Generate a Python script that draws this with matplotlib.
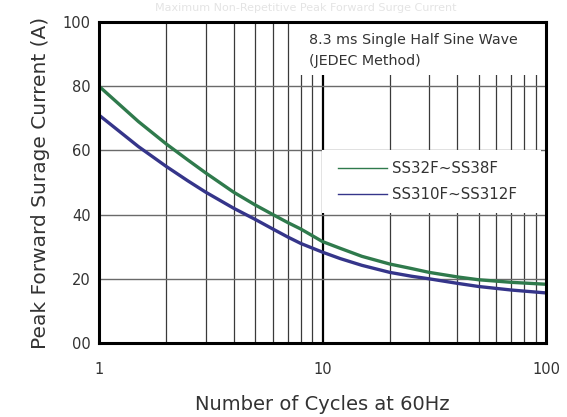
import numpy as np
import matplotlib
matplotlib.use("Agg")
import matplotlib.pyplot as plt
from matplotlib.patches import Rectangle

plt.rcParams['font.family'] = ['DejaVu Sans']

# values
cycles = [1, 1.5, 2, 2.5, 3, 4, 5, 6, 7, 8, 10, 12, 15, 20, 25, 30, 40, 50, 70, 100]
ss32f = [80, 69.0, 62, 57, 53, 47, 43, 40, 37.5, 35.5, 31.6, 29.5, 27, 24.6,
         23.2, 22, 20.6, 19.7, 18.9, 18.3]
ss310f = [71, 61.2, 55, 50.5, 47, 42, 38.5, 35.5, 33, 31, 28.3, 26.3, 24.2, 22,
          20.8, 20, 18.6, 17.6, 16.5, 15.6]

yticks = [0, 20, 40, 60, 80, 100]
ytick_labels = ["00", "20", "40", "60", "80", "100"]
xticks = [1, 10, 100]
xtick_labels = ["1", "10", "100"]

fig = plt.figure(figsize=(5.67, 4.17), dpi=100)
ax = fig.add_axes([99 / 567, 74 / 417, 447 / 567, 321 / 417])

ax.set_xscale("log")
ax.set_xlim(1, 100)
ax.set_ylim(0, 100)

# grid: thin dark verticals at every log step, thicker one at 10, grey horizontals
minor = [m * d for d in (1, 10) for m in range(2, 10)]
for v in minor:
    ax.axvline(v, color="#3a3a3a", lw=0.9, zorder=1)
ax.axvline(10, color="black", lw=1.6, zorder=1)
for h in (20, 40, 60, 80):
    ax.axhline(h, color="#6a6a6a", lw=1.0, zorder=1)

# white areas behind the note and legend
ax.add_patch(Rectangle((0.434, 0.835), 0.566, 0.165, transform=ax.transAxes,
                       facecolor="white", edgecolor="none", zorder=2))
ax.add_patch(Rectangle((0.499, 0.405), 0.49, 0.196, transform=ax.transAxes,
                       facecolor="white", edgecolor="none", zorder=2))

ax.plot(cycles, ss32f, color="#2f7a4c", lw=2.4, zorder=3)
ax.plot(cycles, ss310f, color="#35358a", lw=2.4, zorder=3)

txt = "#333333"
ax.text(0.47, 0.943, "8.3 ms Single Half Sine Wave", transform=ax.transAxes,
        fontsize=10.3, va="center", ha="left", zorder=4, color=txt)
ax.text(0.47, 0.877, "(JEDEC Method)", transform=ax.transAxes,
        fontsize=10.3, va="center", ha="left", zorder=4, color=txt)

# legend drawn by hand with thin sample lines
ax.plot([0.535, 0.645], [0.545, 0.545], transform=ax.transAxes, color="#2f7a4c", lw=1.0, zorder=4)
ax.plot([0.535, 0.645], [0.464, 0.464], transform=ax.transAxes, color="#35358a", lw=1.0, zorder=4)
ax.text(0.655, 0.545, "SS32F~SS38F", transform=ax.transAxes, fontsize=10.8,
        va="center", ha="left", zorder=4, color=txt)
ax.text(0.655, 0.464, "SS310F~SS312F", transform=ax.transAxes, fontsize=10.8,
        va="center", ha="left", zorder=4, color=txt)

ax.set_yticks(yticks)
ax.set_yticklabels(ytick_labels)
ax.set_xticks(xticks)
ax.set_xticklabels(xtick_labels)
ax.xaxis.set_minor_locator(matplotlib.ticker.NullLocator())
ax.tick_params(axis="both", length=0, labelsize=10.5, colors=txt)
ax.tick_params(axis="x", pad=14)
ax.tick_params(axis="y", pad=6)

for s in ax.spines.values():
    s.set_linewidth(2.2)
    s.set_color("black")
    s.set_zorder(5)

ax.set_xlabel("Number of Cycles at 60Hz", fontsize=14, labelpad=13, color=txt)
ax.set_ylabel("Peak Forward Surage Current (A)", fontsize=14.5, labelpad=9, color=txt)

fig.text(0.54, 0.982, "Maximum Non-Repetitive Peak Forward Surge Current",
         fontsize=8, color="#e4e4e4", ha="center", va="center")

fig.savefig("out.png", dpi=100)
